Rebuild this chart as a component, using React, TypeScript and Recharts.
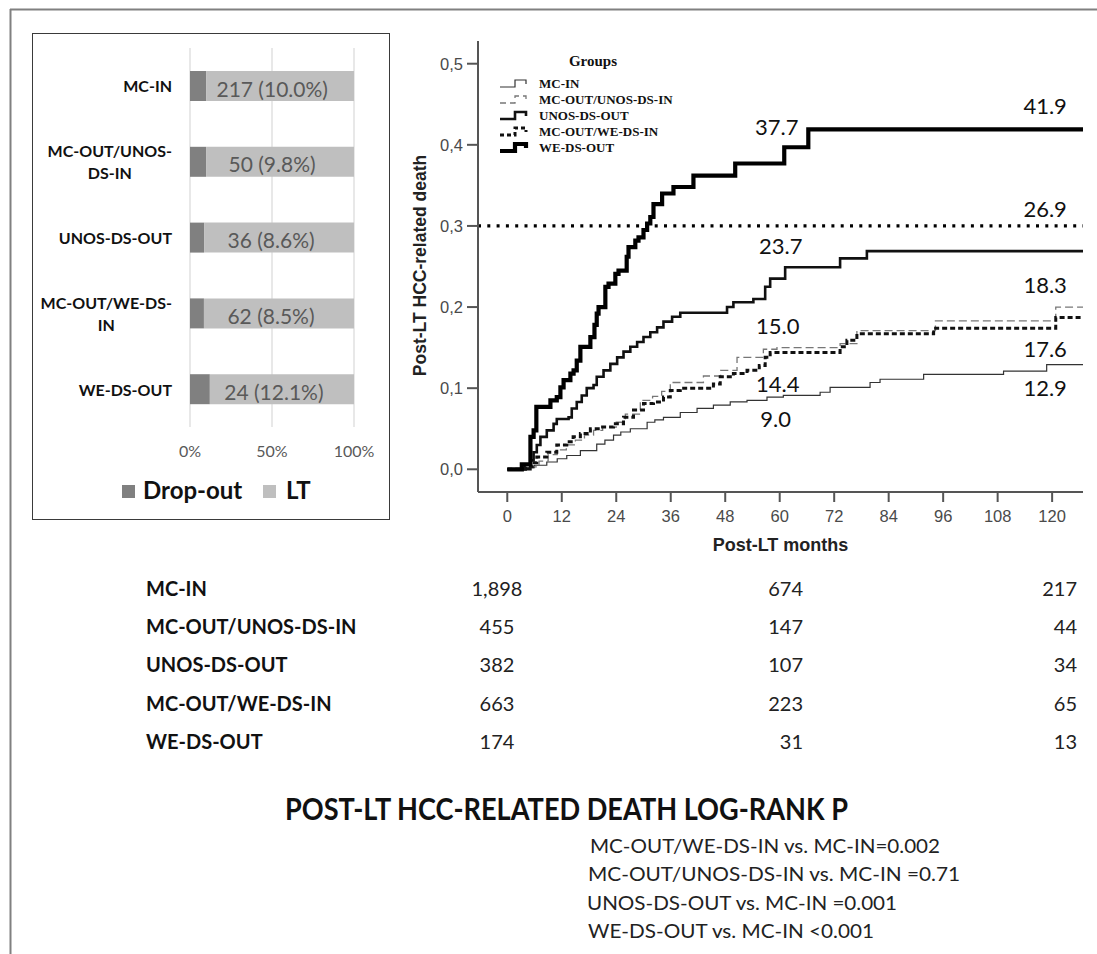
import React from 'react';
import {
  BarChart, Bar, XAxis, YAxis, CartesianGrid, LabelList, Legend,
  ComposedChart, Line, Scatter, ReferenceLine,
} from 'recharts';

// ---------- Data: drop-out bar chart ----------
const barCategories = ['MC-IN', 'MC-OUT/UNOS-DS-IN', 'UNOS-DS-OUT', 'MC-OUT/WE-DS-IN', 'WE-DS-OUT'];
const dropoutCounts = [217, 50, 36, 62, 24];
const dropoutPct = [10.0, 9.8, 8.6, 8.5, 12.1];
const barTicks = [0, 50, 100];
const barSeriesNames = ['Drop-out', 'LT'];

// ---------- Data: cumulative incidence (months, proportion) ----------
const kmGroups = ['MC-IN', 'MC-OUT/UNOS-DS-IN', 'UNOS-DS-OUT', 'MC-OUT/WE-DS-IN', 'WE-DS-OUT'];
const mcInSteps: [number, number][] = [
  [0, 0], [3.6, 0.002], [6, 0.005], [8.7, 0.009], [11, 0.013], [13.1, 0.017], [16.1, 0.023],
  [19.7, 0.031], [21.5, 0.036], [23.4, 0.042], [25, 0.046], [27.1, 0.05], [30.8, 0.058],
  [32.5, 0.061], [34.4, 0.064], [38.1, 0.07], [41.8, 0.075], [45.4, 0.079], [49.1, 0.083],
  [52.8, 0.085], [57.2, 0.089], [60.8, 0.091], [68.9, 0.095], [71.1, 0.101], [79.9, 0.107],
  [82.1, 0.111], [91.7, 0.117], [109.3, 0.121], [118.8, 0.129], [126.8, 0.129],
];
const unosInSteps: [number, number][] = [
  [0, 0], [5, 0.003], [7, 0.01], [9, 0.018], [11, 0.024], [13, 0.03], [15, 0.036], [17, 0.042],
  [19, 0.048], [21, 0.052], [24, 0.058], [26, 0.068], [29.3, 0.085], [32, 0.09], [34, 0.096],
  [35.9, 0.107], [43.2, 0.115], [47, 0.122], [50.6, 0.138], [56.4, 0.148], [59.4, 0.15],
  [73.3, 0.155], [77, 0.171], [94.3, 0.183], [120.8, 0.2], [126.8, 0.2],
];
const unosOutSteps: [number, number][] = [
  [0, 0], [5.1, 0.011], [5.8, 0.021], [6.5, 0.03], [7.3, 0.04], [8.7, 0.048], [10.2, 0.056],
  [10.9, 0.062], [13.5, 0.064], [14.2, 0.075], [15.3, 0.083], [16.4, 0.091], [17.5, 0.1],
  [19, 0.104], [19.7, 0.114], [21.2, 0.122], [22.7, 0.13], [24.2, 0.138], [25.6, 0.145],
  [27.1, 0.151], [28.6, 0.157], [30, 0.163], [31.5, 0.169], [33, 0.175], [34.4, 0.182],
  [36.3, 0.188], [38.1, 0.193], [48.4, 0.2], [49.8, 0.206], [54.2, 0.21], [56.8, 0.225],
  [57.9, 0.235], [61.2, 0.249], [73.3, 0.26], [79.2, 0.269], [126.8, 0.269],
];
const weInSteps: [number, number][] = [
  [0, 0], [4, 0.003], [5.5, 0.008], [6.5, 0.015], [8.7, 0.021], [10.9, 0.03], [13.1, 0.034],
  [14.5, 0.04], [16.1, 0.044], [18.3, 0.05], [20.5, 0.052], [23.4, 0.056], [25.6, 0.064],
  [27.8, 0.073], [30, 0.081], [32.2, 0.083], [34.4, 0.089], [35.9, 0.097], [38.1, 0.1],
  [45.4, 0.105], [46.9, 0.114], [49.8, 0.118], [52.8, 0.122], [55.5, 0.128], [56.8, 0.138],
  [57.9, 0.144], [73.3, 0.151], [74.8, 0.159], [77, 0.167], [93.9, 0.174], [120.8, 0.187],
  [126.8, 0.187],
];
const weOutSteps: [number, number][] = [
  [0, 0], [3.2, 0.006], [5.1, 0.04], [5.8, 0.048], [6.4, 0.077], [9.5, 0.085], [10.9, 0.089],
  [11.7, 0.101], [12.4, 0.11], [13.9, 0.118], [14.6, 0.122], [15.3, 0.134], [16.1, 0.151],
  [18.3, 0.163], [19.2, 0.178], [19.7, 0.192], [20.1, 0.2], [21.6, 0.225], [22.3, 0.229],
  [23.8, 0.241], [24.5, 0.245], [26.3, 0.262], [26.7, 0.274], [28.2, 0.282], [28.9, 0.286],
  [30.0, 0.295], [30.8, 0.303], [31.5, 0.311], [32.2, 0.327], [34.1, 0.34], [36.6, 0.348],
  [41.0, 0.362], [50.2, 0.377], [61, 0.397], [66.3, 0.419], [126.8, 0.419],
];
const monthTicks = [0, 12, 24, 36, 48, 60, 72, 84, 96, 108, 120];
const riskTicks = [0, 0.1, 0.2, 0.3, 0.4, 0.5];
const thresholdRisk = 0.3;
const fiveYearMonth = 60;
const tenYearMonth = 120;
const fiveYearPct = [9.0, 15.0, 23.7, 14.4, 37.7];
const tenYearPct = [12.9, 18.3, 26.9, 17.6, 41.9];

// ---------- Data: numbers at risk & log-rank ----------
const atRiskGroups = ['MC-IN', 'MC-OUT/UNOS-DS-IN', 'UNOS-DS-OUT', 'MC-OUT/WE-DS-IN', 'WE-DS-OUT'];
const atRisk0 = ['1,898', '455', '382', '663', '174'];
const atRisk60 = ['674', '147', '107', '223', '31'];
const atRisk120 = ['217', '44', '34', '65', '13'];
const logRankTitle = 'POST-LT HCC-RELATED DEATH LOG-RANK P';
const logRankLines = [
  'MC-OUT/WE-DS-IN vs. MC-IN=0.002',
  'MC-OUT/UNOS-DS-IN vs. MC-IN =0.71',
  'UNOS-DS-OUT vs. MC-IN =0.001',
  'WE-DS-OUT vs. MC-IN <0.001',
];

// ---------- Styles (kept apart from data) ----------
const CAL = 'Lato, "Open Sans", sans-serif';
const ARIAL = '"Liberation Sans", Arial, sans-serif';
const TIMES = '"Liberation Serif", "Times New Roman", serif';
const kmStyles = [
  { stroke: '#333', width: 1.2, dash: undefined as string | undefined },
  { stroke: '#777', width: 1.3, dash: '8 4' },
  { stroke: '#111', width: 2.6, dash: undefined },
  { stroke: '#111', width: 3, dash: '5 3' },
  { stroke: '#000', width: 4.2, dash: undefined },
];
const fiveYearOffsets: [number, number][] = [[-4, 22], [-2, -22], [1, -32], [-2, 31], [-3, -37]];
const tenYearOffsets: [number, number][] = [[-7, 23], [-7, -36], [-7, -43], [-7, 22], [-7, -24]];
const logRankX = [590, 588, 587, 588];
const logRankLen = [350, 372, 310, 286];
const logRankY = [845, 873, 902, 930];
const tableRowY = [588, 626, 664, 703, 741];

// ---------- Derived tables ----------
const barData = barCategories.map((name, i) => ({
  name,
  dropout: dropoutPct[i],
  lt: 100 - dropoutPct[i],
  label: `${dropoutCounts[i]} (${dropoutPct[i].toFixed(1)}%)`,
}));
const kmSteps = [mcInSteps, unosInSteps, unosOutSteps, weInSteps, weOutSteps];
const kmData = kmSteps.map((s) => s.map(([t, v]) => ({ t, v })));
const annotData = [
  ...fiveYearPct.map((p, i) => ({ t: fiveYearMonth, v: p / 100, text: p.toFixed(1), off: fiveYearOffsets[i] })),
  ...tenYearPct.map((p, i) => ({ t: tenYearMonth, v: p / 100, text: p.toFixed(1), off: tenYearOffsets[i] })),
];

let measureCtx: CanvasRenderingContext2D | null = null;
function measure(text: string, font: string): number {
  if (!measureCtx) measureCtx = document.createElement('canvas').getContext('2d');
  if (!measureCtx) return text.length * 9;
  measureCtx.font = font;
  return measureCtx.measureText(text).width;
}
function wrapLabel(s: string, max = 13): string[] {
  if (s.length <= max) return [s];
  const cut = s.slice(0, max).lastIndexOf('-');
  if (cut <= 0) return [s];
  return [s.slice(0, cut + 1), s.slice(cut + 1)];
}

const CategoryTick = (props: any) => {
  const { x, y, payload } = props;
  const lines = wrapLabel(String(payload.value));
  const font = `bold 16px Lato`;
  const maxW = Math.max(...lines.map((l) => measure(l, font)));
  const cx = x - maxW / 2;
  const lh = 21.5;
  const y0 = y - ((lines.length - 1) * lh) / 2;
  return (
    <g>
      {lines.map((l, i) => (
        <text key={i} x={cx} y={y0 + i * lh} textAnchor="middle" dominantBaseline="central"
          fontFamily={CAL} fontWeight="bold" fontSize={16} fill="#111">{l}</text>
      ))}
    </g>
  );
};

const BarValueLabel = (props: any) => {
  const { x, y, width, height, value } = props;
  return (
    <text x={x + width / 2 - 8} y={y + height / 2 + 2} textAnchor="middle" dominantBaseline="central"
      fontFamily={CAL} fontSize={21} fill="#595959">{value}</text>
  );
};

const BarLegend = () => (
  <div style={{ position: 'relative', width: 356, height: 485, fontFamily: CAL }}>
    <div style={{ position: 'absolute', left: 89, top: 451, width: 13, height: 13, background: '#808080' }} />
    <div style={{ position: 'absolute', left: 110, top: 440, fontSize: 24, fontWeight: 'bold', color: '#111', lineHeight: '32px' }}>{barSeriesNames[0]}</div>
    <div style={{ position: 'absolute', left: 230, top: 451, width: 13, height: 13, background: '#bfbfbf' }} />
    <div style={{ position: 'absolute', left: 253, top: 440, fontSize: 24, fontWeight: 'bold', color: '#111', lineHeight: '32px' }}>{barSeriesNames[1]}</div>
  </div>
);

const legendSymbol = (i: number) => {
  const s = kmStyles[i];
  return (
    <path d="M0,4 H15 V-3 H26 V1" fill="none" stroke={s.stroke} strokeWidth={s.width}
      strokeDasharray={s.dash ? (i === 1 ? '6 4' : '4 3') : undefined} />
  );
};

const KmLegend = () => (
  <svg width={220} height={110} style={{ overflow: 'visible' }}>
    <text x={93} y={11} textAnchor="middle" dominantBaseline="central" fontFamily={TIMES}
      fontWeight="bold" fontSize={15} fill="#111">Groups</text>
    {kmGroups.map((g, i) => (
      <g key={g} transform={`translate(0, ${33 + i * 16})`}>
        {legendSymbol(i)}
        <text x={39} y={0} dominantBaseline="central" fontFamily={TIMES} fontWeight="bold"
          fontSize={13} fill="#111">{g}</text>
      </g>
    ))}
  </svg>
);

const YTitle = (props: any) => {
  const vb = props.viewBox || { x: 18, y: 11, width: 60, height: 451 };
  const x = vb.x + 2;
  const y = vb.y + vb.height / 2 - 1;
  return (
    <text x={x} y={y} transform={`rotate(-90, ${x}, ${y})`} textAnchor="middle" dominantBaseline="central"
      fontFamily={ARIAL} fontWeight="bold" fontSize={17.5} fill="#222">Post-LT HCC-related death</text>
  );
};
const XTitle = (props: any) => {
  const vb = props.viewBox || { x: 78, y: 462, width: 605, height: 40 };
  return (
    <text x={vb.x + vb.width / 2} y={vb.y + 53} textAnchor="middle" dominantBaseline="central"
      fontFamily={ARIAL} fontWeight="bold" fontSize={18} fill="#222">Post-LT months</text>
  );
};

const ValueLabel = (props: any) => {
  const { cx, cy, payload } = props;
  if (cx == null || cy == null) return null;
  const [dx, dy] = payload.off;
  return (
    <text x={cx + dx} y={cy + dy} textAnchor="middle" dominantBaseline="central"
      fontFamily={CAL} fontSize={22} fill="#111">{payload.text}</text>
  );
};

const axisStroke = { stroke: '#555', strokeWidth: 2 };

export default function App() {
  return (
    <div style={{ position: 'absolute', left: 0, top: 0, width: 1097, height: 954, background: '#fff' }}>
      {/* Figure frame lines and text table */}
      <svg width={1097} height={954} style={{ position: 'absolute', left: 0, top: 0 }}>
        <line x1={10} y1={9.5} x2={1097} y2={9.5} stroke="#808080" strokeWidth={2} />
        <line x1={10.5} y1={9} x2={10.5} y2={954} stroke="#808080" strokeWidth={2} />
        {atRiskGroups.map((g, i) => (
          <g key={g}>
            <text x={146} y={tableRowY[i]} dominantBaseline="central" fontFamily={CAL} fontWeight="bold"
              fontSize={20} fill="#111">{g}</text>
            <text x={497} y={tableRowY[i]} textAnchor="middle" dominantBaseline="central" fontFamily={CAL}
              fontSize={20} fill="#222">{atRisk0[i]}</text>
            <text x={803} y={tableRowY[i]} textAnchor="end" dominantBaseline="central" fontFamily={CAL}
              fontSize={20} fill="#222">{atRisk60[i]}</text>
            <text x={1077} y={tableRowY[i]} textAnchor="end" dominantBaseline="central" fontFamily={CAL}
              fontSize={20} fill="#222">{atRisk120[i]}</text>
          </g>
        ))}
        <text x={285} y={808} dominantBaseline="central" fontFamily={CAL} fontWeight="bold" fontSize={30}
          fill="#111" textLength={563} lengthAdjust="spacingAndGlyphs">{logRankTitle}</text>
        {logRankLines.map((l, i) => (
          <text key={l} x={logRankX[i]} y={logRankY[i]} dominantBaseline="central" fontFamily={CAL}
            fontSize={20} fill="#222" textLength={logRankLen[i]} lengthAdjust="spacingAndGlyphs">{l}</text>
        ))}
      </svg>

      {/* Left: drop-out bar chart */}
      <div style={{ position: 'absolute', left: 32, top: 33, width: 358, height: 487, border: '1px solid #3a3a3a', boxSizing: 'border-box', background: '#fff' }}>
        <BarChart width={356} height={485} data={barData} layout="vertical"
          margin={{ top: 14, right: 35, bottom: 62, left: 0 }}>
          <CartesianGrid horizontal={false} stroke="#d9d9d9" strokeWidth={1.2} />
          <XAxis type="number" domain={[0, 100]} ticks={barTicks} tickFormatter={(v) => `${v}%`}
            axisLine={false} tickLine={false} height={30} tickSize={6} tickMargin={13}
            tick={{ fill: '#595959', fontSize: 16, fontFamily: CAL }} interval={0} />
          <YAxis type="category" dataKey="name" width={157} axisLine={false} tickLine={false}
            tickSize={6} tickMargin={12} tick={<CategoryTick />} interval={0} />
          <Bar dataKey="dropout" stackId="a" fill="#808080" barSize={30} isAnimationActive={false} />
          <Bar dataKey="lt" stackId="a" fill="#bfbfbf" barSize={30} isAnimationActive={false}>
            <LabelList dataKey="label" content={<BarValueLabel />} />
          </Bar>
          <Legend layout="horizontal" verticalAlign="middle" align="center"
            wrapperStyle={{ left: 0, top: 0, width: 356, height: 485 }} content={<BarLegend />} />
        </BarChart>
      </div>

      {/* Right: cumulative incidence chart */}
      <div style={{ position: 'absolute', left: 400, top: 30 }}>
        <ComposedChart width={697} height={540} margin={{ top: 11, right: 14, bottom: 38, left: 18 }}>
          <XAxis type="number" dataKey="t" domain={[-6.45, 126.8]} ticks={monthTicks} allowDataOverflow
            interval={0} height={40} tickSize={10} tickMargin={8} axisLine={axisStroke}
            tickLine={axisStroke} tick={{ fill: '#4a4a4a', fontSize: 16.5, fontFamily: ARIAL }}
            label={<XTitle />} />
          <XAxis xAxisId="top" orientation="top" type="number" domain={[-6.45, 126.8]} allowDataOverflow
            height={0} tick={false} tickLine={false} axisLine={axisStroke} />
          <YAxis type="number" domain={[-0.028, 0.528]} ticks={riskTicks} allowDataOverflow interval={0}
            width={60} tickSize={11} tickMargin={4} axisLine={axisStroke} tickLine={axisStroke}
            tickFormatter={(v) => Number(v).toFixed(1).replace('.', ',')}
            tick={{ fill: '#4a4a4a', fontSize: 16.5, fontFamily: ARIAL }} label={<YTitle />} />
          <YAxis yAxisId="right" orientation="right" type="number" domain={[0, 1]} width={0}
            tick={false} tickLine={false} axisLine={axisStroke} />
          <ReferenceLine y={thresholdRisk} stroke="#000" strokeWidth={3.2} strokeDasharray="3 6.3" />
          {kmData.map((d, i) => (
            <Line key={kmGroups[i]} name={kmGroups[i]} data={d} dataKey="v" type="stepAfter"
              stroke={kmStyles[i].stroke} strokeWidth={kmStyles[i].width}
              strokeDasharray={kmStyles[i].dash} dot={false} activeDot={false}
              isAnimationActive={false} />
          ))}
          <Scatter data={annotData} dataKey="v" shape={<ValueLabel />} isAnimationActive={false} />
          <Legend layout="horizontal" verticalAlign="middle" align="center"
            wrapperStyle={{ left: 100, top: 20, width: 220, height: 110 }} content={<KmLegend />} />
        </ComposedChart>
      </div>
    </div>
  );
}
